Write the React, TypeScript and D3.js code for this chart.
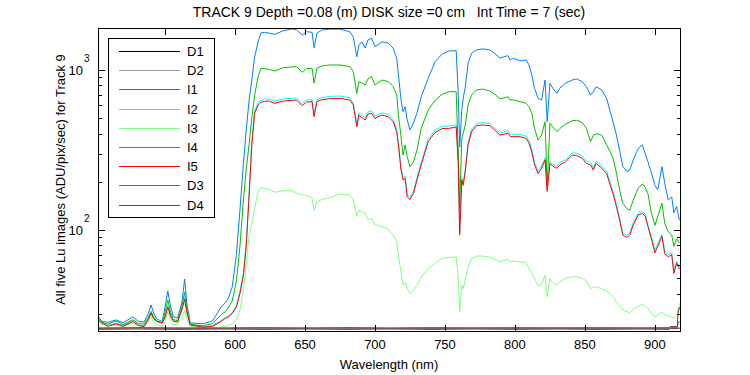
import React from "react";
import { scaleLinear, scaleLog, line as d3line } from "d3";

// ---------- data ----------
const wl = [502, 505, 509, 515, 520, 527, 531, 535, 538, 540, 542, 544, 548, 550, 552, 554, 556, 559, 562, 564, 565.5, 568, 577, 584,
  590, 593, 595, 598, 601, 603.5, 606, 608, 610, 612, 614, 616.5, 618.5, 621, 624, 628.5, 634.5, 640.5, 644, 648,
  651, 655, 656.5, 658.5, 662, 668, 675, 682, 684.5, 687, 688.5, 690.5, 693, 695, 697.5, 700, 702, 705, 709.5, 713,
  715.5, 717, 718.5, 720, 721.5, 723, 725, 727.5, 730, 733, 738, 743, 748, 753, 758, 759.5, 760.5, 762, 763, 764.5,
  766.5, 769, 772.5, 777, 782, 787, 789, 795, 796.5, 799, 803.5, 808, 810, 812, 814, 816.5, 819, 821.5, 823, 825,
  827, 830, 832, 836, 841, 844, 848, 851, 854, 856, 858, 862, 865.5, 868, 870, 872.5, 875, 877, 880, 882,
  884.5, 888, 891, 893, 895, 897.5, 900, 902, 905, 907, 909.5, 912, 913.5, 915.5, 917.5];

const i1 = [29, 26.8, 26.5, 27.4, 26.3, 28.6, 26.8, 26.6, 30, 34, 30, 27.8, 26.8, 33, 41.6, 33, 28.7, 28.2, 35, 49.4, 35, 26.3, 25.9, 27,
  33, 35, 37, 44, 70, 133, 260, 420, 640, 866, 1206, 1500, 1703, 1720, 1700, 1670, 1760, 1805, 1778, 1655,
  1735, 1720, 1378, 1700, 1778, 1800, 1800, 1735, 1610, 1210, 1433, 1500, 1373, 1540, 1580, 1400, 1433, 1500, 1470, 1368,
  1185, 887, 660, 549, 590, 487, 422, 466, 540, 680, 887, 1127, 1260, 1315, 1320, 700, 330, 560, 668, 780,
  1100, 1270, 1334, 1356, 1334, 1241, 1185, 1230, 1155, 1185, 1140, 1155, 1075, 931, 769, 665, 650, 866, 475, 826,
  769, 714, 769, 826, 866, 880, 845, 786, 698, 730, 786, 750, 665, 549, 475, 392, 308, 249, 232, 237,
  274, 323, 340, 301, 267, 227, 190, 178, 249, 196, 154, 161, 128, 140, 115];

const i2 = [27.8, 26.5, 25.3, 26.2, 25.3, 27, 25.5, 25.2, 27.8, 30.4, 28, 27, 26.4, 28.8, 33.6, 29, 27, 26.9, 32, 37.5, 31.2, 25.7, 24.9, 25.3,
  27.2, 28.5, 29, 30.5, 33.8, 41.5, 54, 83, 168, 352, 555, 625, 648, 655, 660, 638, 661, 665, 668, 616,
  650, 652, 526, 652, 672, 684, 687, 670, 623, 458, 540, 522, 503, 548, 556, 514, 527, 540, 528, 491,
  426, 336, 248, 212, 218, 167, 160, 175, 212, 264, 369, 422, 444, 447, 455, 270, 98, 212, 197, 240,
  352, 426, 464, 469, 464, 424, 405, 416, 398, 396, 396, 387, 362, 319, 264, 233, 251, 283, 180, 270,
  258, 251, 264, 276, 304, 302, 291, 270, 264, 245, 270, 251, 233, 198, 175, 145, 116, 96, 93, 96,
  111, 128, 131, 126, 108, 91, 75, 82, 94, 74, 70, 72, 56, 64, 59];

const i3 = [27, 25.8, 25.5, 25.5, 25, 26.2, 25.2, 24.9, 26.5, 28.7, 26.5, 25.5, 25, 26.8, 30.8, 27, 25.5, 25.8, 28, 31.6, 28, 25, 24.4, 24.4,
  24.7, 25, 25.3, 26, 27.8, 31.6, 42, 60, 92, 110, 136, 174, 184, 182, 180, 172, 176, 176, 170, 166,
  164, 158, 132, 150, 155, 160, 168, 165, 155, 122, 133, 130, 128, 116, 118, 108, 107, 105, 101, 93,
  84, 67, 55, 45.3, 47, 43, 40, 42, 45, 51, 57.5, 62, 66.5, 67.5, 68, 50, 30.8, 45.3, 43, 48.7,
  58.8, 66.5, 68.8, 68.8, 67.5, 65, 63.3, 65.6, 63, 64, 63.3, 62.5, 57.5, 54, 49.8, 44.7, 45.5, 52.3, 38.2, 49.8,
  47, 45.3, 47.5, 49.8, 51, 51, 50, 48, 43, 44, 44, 43, 41.5, 40, 38.5, 35.6, 33.5, 31.6, 30.8, 30.4,
  32, 33.5, 34.3, 33.5, 32.3, 30.1, 28.7, 29.4, 30.8, 29.6, 29, 28.7, 28, 29.4, 34.8];

const i4 = [28, 26.4, 25.8, 27, 25.6, 27.5, 26, 25.8, 28.5, 31, 28.5, 27, 26.2, 30.5, 36.5, 30.5, 27.5, 27.2, 33, 41, 32, 25.7, 25.2, 26,
  29.4, 30.8, 32.5, 36, 48, 79, 154, 240, 340, 500, 698, 910, 1025, 1020, 1010, 986, 1034, 1045, 1049, 967,
  1020, 1025, 826, 1025, 1060, 1075, 1075, 1049, 977, 714, 845, 830, 806, 880, 910, 806, 830, 866, 845, 786,
  698, 497, 390, 294, 340, 287, 249, 267, 316, 432, 562, 649, 705, 732, 732, 301, 137, 375, 400, 453,
  604, 698, 750, 760, 740, 690, 659, 680, 650, 649, 634, 619, 590, 537, 432, 365, 392, 475, 190, 465,
  440, 412, 430, 458, 482, 485, 470, 432, 357, 390, 400, 392, 340, 308, 282, 227, 174, 147, 136, 133,
  154, 182, 194, 185, 169, 127, 107, 121, 147, 110, 97.6, 93, 79, 88, 83];

const i5 = [27.4, 26.2, 25, 25.9, 25, 26.8, 25.3, 24.9, 27.5, 30.1, 27.8, 26.8, 26.2, 28.5, 33, 28.8, 26.8, 26.6, 31.6, 36.8, 30.8, 25.5, 24.7, 25,
  26.8, 28, 28.5, 30, 33, 40, 52, 79, 161, 340, 537, 604, 628, 636, 640, 619, 640, 645, 649, 598,
  630, 634, 510, 634, 652, 662, 665, 649, 604, 442, 523, 505, 487, 530, 537, 497, 510, 523, 510, 475,
  412, 325, 240, 205, 211, 161, 155, 169, 205, 255, 357, 408, 430, 432, 440, 260, 93, 205, 190, 232,
  340, 412, 449, 453, 449, 410, 392, 402, 385, 383, 383, 374, 350, 308, 255, 225, 243, 274, 174, 261,
  250, 243, 255, 267, 294, 292, 281, 261, 255, 237, 261, 243, 225, 191, 169, 140, 112.5, 93, 90, 93,
  107.5, 124, 127, 122, 105, 88, 72, 79, 91, 71, 68, 70, 53.5, 62, 57];

const dWl = [502, 530, 560, 590, 620, 650, 680, 710, 740, 770, 800, 830, 860, 890, 910, 911, 916, 916.5, 917.5];
const d1 = [24.0, 24.1, 24.0, 24.1, 24.0, 24.1, 24.0, 24.1, 24.0, 24.1, 24.0, 24.1, 24.0, 24.1, 24.0, 24.2, 24.2, 24.3, 24.3];
const d2 = [24.2, 24.2, 24.3, 24.2, 24.2, 24.3, 24.2, 24.2, 24.3, 24.2, 24.2, 24.3, 24.2, 24.2, 24.3, 24.4, 24.4, 24.5, 24.5];
const d3 = [24.3, 24.4, 24.3, 24.3, 24.4, 24.3, 24.4, 24.3, 24.3, 24.4, 24.3, 24.4, 24.3, 24.4, 24.3, 24.6, 24.6, 26.0, 27.0];
const d4 = [24.4, 24.5, 24.4, 24.4, 24.5, 24.4, 24.5, 24.4, 24.5, 24.4, 24.5, 24.4, 24.5, 24.4, 24.5, 24.9, 24.9, 29.8, 33];

const seriesNames = ["D1", "D2", "I1", "I2", "I3", "I4", "I5", "D3", "D4"];
const seriesColors = ["#000000", "#999999", "#0080ff", "#00ffff", "#80ff80", "#00bf00", "#ff0000", "#806060", "#803838"];

const xTicks = [550, 600, 650, 700, 750, 800, 850, 900];
const yMajor = [100, 1000];
const yMajorExp = ["2", "3"];
const yMinor = [30, 40, 50, 60, 70, 80, 90, 200, 300, 400, 500, 600, 700, 800, 900];

const title = "TRACK 9 Depth =0.08 (m) DISK size =0 cm   Int Time = 7 (sec)";
const xLabel = "Wavelength (nm)";
const yLabel = "All five Lu images (ADU/pix/sec) for Track 9";

// ---------- layout ----------
const W = 750, H = 375;
const L = 98, R = 680, T = 28, B = 331;
const FONT = "'Liberation Sans', Arial, Helvetica, sans-serif";

export default function App() {
  const x = scaleLinear().domain([502.1, 917.9]).range([L, R]);
  const y = scaleLog().domain([23.37, 1830]).range([B, T]);

  const seriesData: [number[], number[]][] = [
    [dWl, d1], [dWl, d2], [wl, i1], [wl, i2], [wl, i3], [wl, i4], [wl, i5], [dWl, d3], [dWl, d4],
  ];

  const line = d3line<[number, number]>().x((d) => x(d[0])).y((d) => y(d[1]));

  const paths = seriesData.map(([xs, ys], k) => {
    const pts: [number, number][] = xs.map((v, j) => [v, ys[j]]);
    return (
      <path key={seriesNames[k]} d={line(pts) || ""} fill="none" stroke={seriesColors[k]} strokeWidth={1} />
    );
  });

  const legX = 108, legY = 38, legW = 106, legH = 179, legStep = 19.2, legFirst = 51;

  return (
    <svg width={W} height={H} style={{ position: "absolute", left: 0, top: 0, background: "#fff" }} fontFamily={FONT}>
      <rect x={0} y={0} width={W} height={H} fill="#fff" />
      <defs>
        <clipPath id="plotclip">
          <rect x={L} y={T} width={R - L} height={B - T} />
        </clipPath>
      </defs>
      <g clipPath="url(#plotclip)">{paths}</g>

      {/* axes box */}
      <rect x={L + 0.5} y={T + 0.5} width={R - L} height={B - T} fill="none" stroke="#000" strokeWidth={1} shapeRendering="crispEdges" />

      {/* x ticks */}
      {xTicks.map((t) => (
        <g key={"xt" + t} shapeRendering="crispEdges">
          <line x1={Math.round(x(t)) + 0.5} x2={Math.round(x(t)) + 0.5} y1={B} y2={B - 6} stroke="#000" />
          <line x1={Math.round(x(t)) + 0.5} x2={Math.round(x(t)) + 0.5} y1={T + 1} y2={T + 7} stroke="#000" />
          <text x={x(t)} y={349} fontSize={13} textAnchor="middle" fill="#000">{t}</text>
        </g>
      ))}

      {/* y ticks */}
      {yMajor.map((t, k) => (
        <g key={"ym" + t} shapeRendering="crispEdges">
          <line x1={L + 1} x2={L + 7} y1={Math.round(y(t)) + 0.5} y2={Math.round(y(t)) + 0.5} stroke="#000" />
          <line x1={R} x2={R - 6} y1={Math.round(y(t)) + 0.5} y2={Math.round(y(t)) + 0.5} stroke="#000" />
          <text x={83} y={y(t) + 5} fontSize={13} textAnchor="end" fill="#000">10</text>
          <text x={84} y={y(t) - 8} fontSize={10} textAnchor="start" fill="#000">{yMajorExp[k]}</text>
        </g>
      ))}
      {yMinor.map((t) => (
        <g key={"yn" + t} shapeRendering="crispEdges">
          <line x1={L + 1} x2={L + 4} y1={Math.round(y(t)) + 0.5} y2={Math.round(y(t)) + 0.5} stroke="#000" />
          <line x1={R} x2={R - 3} y1={Math.round(y(t)) + 0.5} y2={Math.round(y(t)) + 0.5} stroke="#000" />
        </g>
      ))}

      {/* labels */}
      <text x={(L + R) / 2} y={17} fontSize={14} textAnchor="middle" fill="#000" style={{ whiteSpace: "pre" }}>{title}</text>
      <text x={(L + R) / 2} y={369} fontSize={13} textAnchor="middle" fill="#000">{xLabel}</text>
      <text transform={`translate(65, ${(T + B) / 2}) rotate(-90)`} fontSize={13} textAnchor="middle" fill="#000">{yLabel}</text>

      {/* legend */}
      <rect x={legX + 0.5} y={legY + 0.5} width={legW} height={legH} fill="#fff" stroke="#000" shapeRendering="crispEdges" />
      {seriesNames.map((n, k) => {
        const ly = legFirst + k * legStep;
        return (
          <g key={"lg" + n}>
            <line x1={119} x2={180} y1={Math.round(ly) + 0.5} y2={Math.round(ly) + 0.5} stroke={seriesColors[k]} strokeWidth={1} shapeRendering="crispEdges" />
            <text x={187} y={ly + 5} fontSize={13} fill="#000">{n}</text>
          </g>
        );
      })}
    </svg>
  );
}
